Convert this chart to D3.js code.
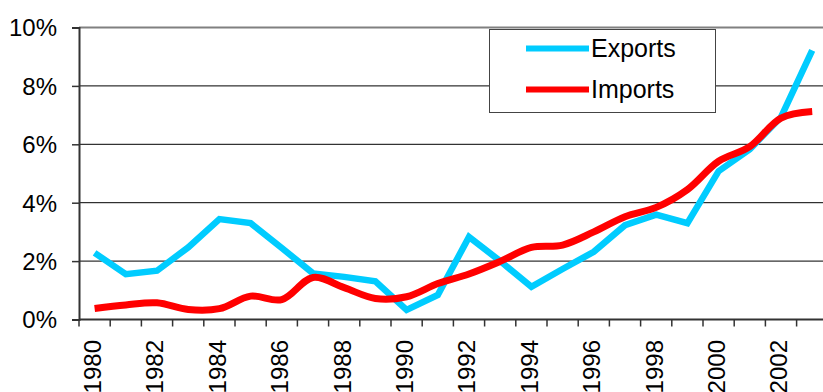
<!DOCTYPE html>
<html>
<head>
<meta charset="utf-8">
<script src="https://cdn.jsdelivr.net/npm/d3@7"></script>
<style>
  html, body { margin: 0; padding: 0; background: #fff; overflow: hidden; }
  svg { display: block; font-family: Arial, "Liberation Sans", sans-serif; }
</style>
</head>
<body>
<svg id="chart" width="823" height="392"></svg>
<script>
// Trade growth, share of GDP (%)
const years = d3.range(1980, 2004);
const exportsPct = [2.28, 1.55, 1.67, 2.47, 3.44, 3.30, 2.45, 1.58, 1.46, 1.31, 0.33, 0.84, 2.83,
                    2.00, 1.12, 1.73, 2.32, 3.23, 3.59, 3.30, 5.08, 5.83, 6.93, 9.22];
const importsPct = [0.38, 0.50, 0.57, 0.34, 0.37, 0.80, 0.68, 1.44, 1.09, 0.72, 0.78, 1.23, 1.56,
                    1.99, 2.47, 2.55, 3.00, 3.52, 3.84, 4.45, 5.42, 5.92, 6.90, 7.12];
const yTicks = [0, 2, 4, 6, 8, 10];
const xLabelYears = years.filter(y => (y - 1980) % 2 === 0);
const seriesNames = ["Exports", "Imports"];
const seriesColors = ["#00CCFF", "#FF0000"];

const svg = d3.select("#chart");
const plotLeft = 79, plotTop = 27.5, plotBottom = 319.5, bandW = 31.2;
const plotRight = plotLeft + bandW * years.length;

const x = d3.scaleBand().domain(years).range([plotLeft, plotRight]).paddingInner(0).paddingOuter(0);
const y = d3.scaleLinear().domain([0, 10]).range([plotBottom, plotTop]);

// horizontal gridlines
svg.append("g").selectAll("line")
  .data(yTicks.filter(t => t > 0 && t < 10))
  .join("line")
  .attr("x1", plotLeft).attr("x2", plotRight)
  .attr("y1", d => y(d)).attr("y2", d => y(d))
  .attr("stroke", "#000").attr("stroke-width", 1);

// plot area top border
svg.append("line")
  .attr("x1", plotLeft).attr("x2", plotRight)
  .attr("y1", y(10)).attr("y2", y(10))
  .attr("stroke", "#808080").attr("stroke-width", 2);

// y axis
const yAxis = d3.axisLeft(y).tickValues(yTicks).tickSize(7).tickFormat(d => d + "%");
const gy = svg.append("g").attr("transform", `translate(${plotLeft},0)`).call(yAxis);
gy.select(".domain").attr("stroke", "#333").attr("stroke-width", 2);
gy.selectAll(".tick line").attr("stroke", "#333").attr("stroke-width", 1.5);
gy.selectAll(".tick text")
  .attr("x", -22).attr("dy", "0.35em")
  .attr("font-size", 24).attr("fill", "#000")
  .attr("font-family", "Arial, 'Liberation Sans', sans-serif");

// x axis: ticks between categories
const gx = svg.append("g");
gx.append("line")
  .attr("x1", plotLeft).attr("x2", plotRight)
  .attr("y1", plotBottom).attr("y2", plotBottom)
  .attr("stroke", "#333").attr("stroke-width", 2);
gx.selectAll("line.tick")
  .data(years.concat([null]))
  .join("line")
  .attr("class", "tick")
  .attr("x1", (d, i) => plotLeft + i * x.bandwidth())
  .attr("x2", (d, i) => plotLeft + i * x.bandwidth())
  .attr("y1", plotBottom).attr("y2", plotBottom + 7)
  .attr("stroke", "#333").attr("stroke-width", 1.5);
gx.selectAll("text")
  .data(xLabelYears)
  .join("text")
  .attr("transform", d => `translate(${x(d) + x.bandwidth() / 2 - 2},340) rotate(-90)`)
  .attr("text-anchor", "end")
  .attr("dy", "0.35em")
  .attr("font-size", 24)
  .attr("fill", "#000")
  .text(d => d);

// series lines
const cx = d => x(d) + x.bandwidth() / 2;
const exportLine = d3.line()
  .x((d, i) => cx(years[i]))
  .y(d => y(d));
const importLine = d3.line()
  .x((d, i) => cx(years[i]))
  .y(d => y(d))
  .curve(d3.curveCatmullRom.alpha(0.5));

svg.append("path")
  .attr("d", exportLine(exportsPct))
  .attr("fill", "none")
  .attr("stroke", seriesColors[0])
  .attr("stroke-width", 6.5)
  .attr("stroke-linejoin", "miter");

svg.append("path")
  .attr("d", importLine(importsPct))
  .attr("fill", "none")
  .attr("stroke", seriesColors[1])
  .attr("stroke-width", 7)
  .attr("stroke-linejoin", "round");

// legend
const lg = svg.append("g");
lg.append("rect")
  .attr("x", 489.5).attr("y", 29.5)
  .attr("width", 226).attr("height", 83)
  .attr("fill", "#fff").attr("stroke", "#444").attr("stroke-width", 1);
const legendRows = [48.5, 89.5];
seriesNames.forEach((name, i) => {
  lg.append("line")
    .attr("x1", 526).attr("x2", 589)
    .attr("y1", legendRows[i]).attr("y2", legendRows[i])
    .attr("stroke", seriesColors[i]).attr("stroke-width", 6);
  lg.append("text")
    .attr("x", 591).attr("y", legendRows[i])
    .attr("dy", "0.35em")
    .attr("font-size", 25)
    .attr("fill", "#000")
    .text(name);
});
</script>
</body>
</html>
